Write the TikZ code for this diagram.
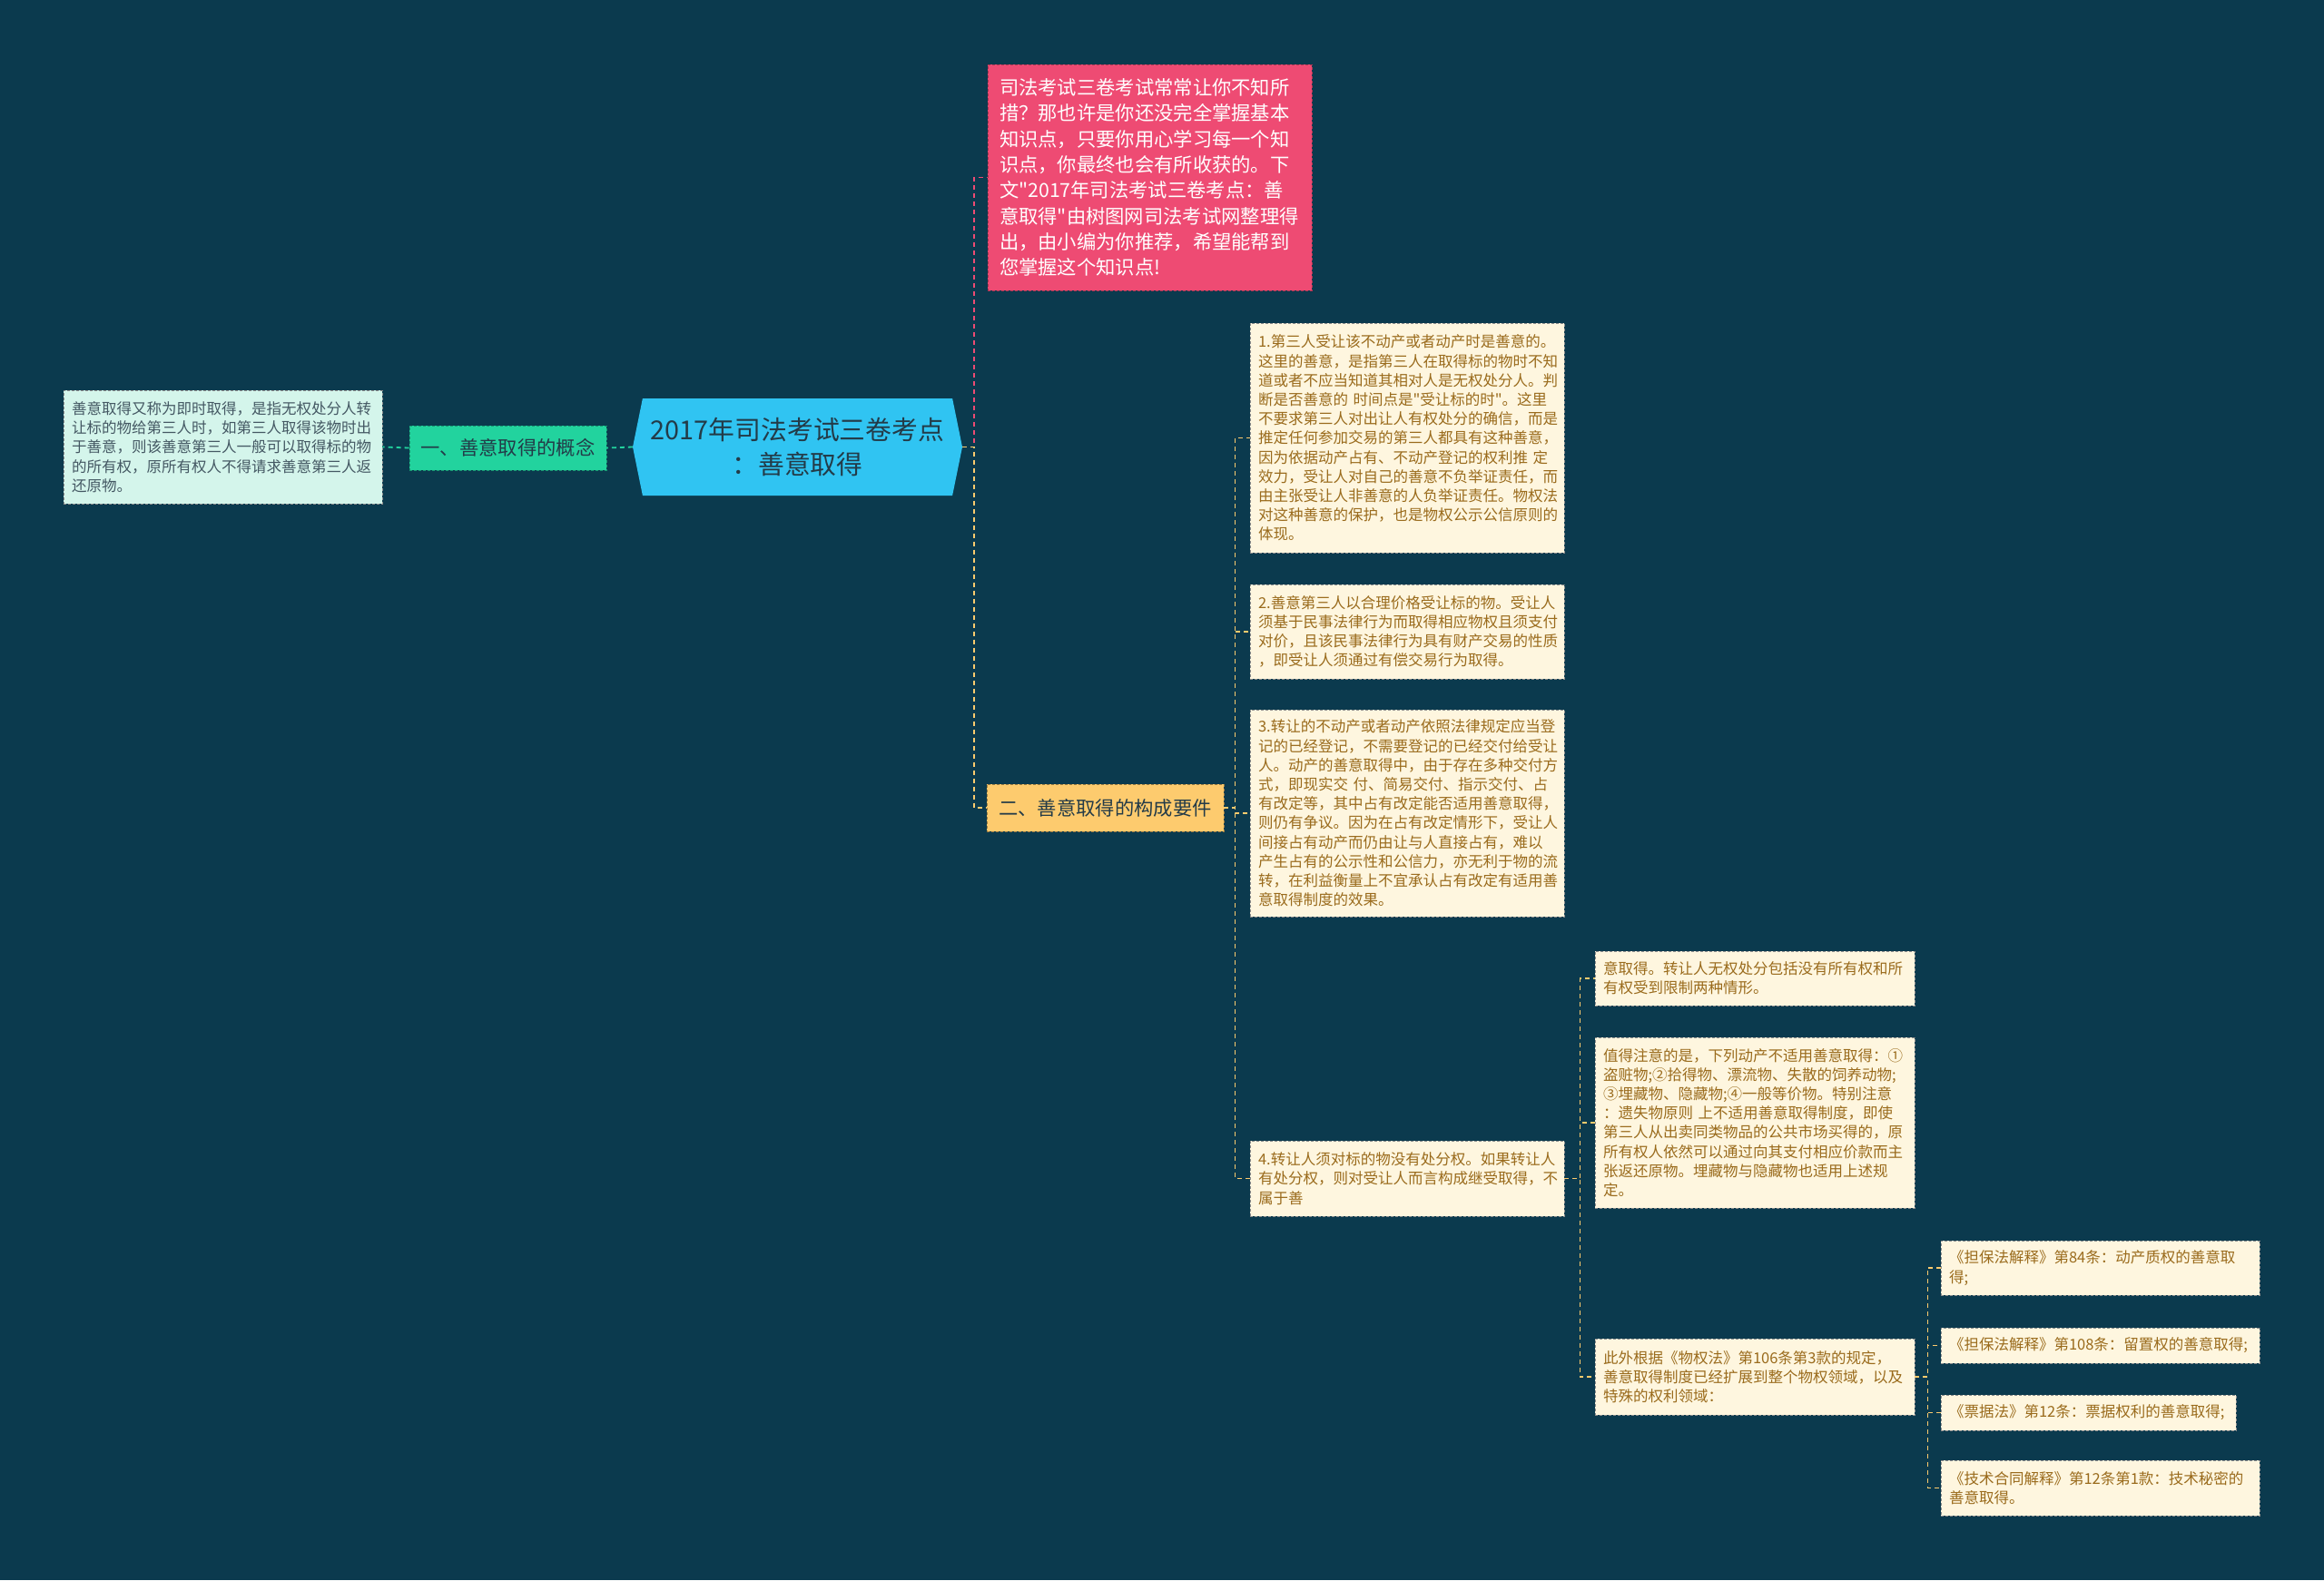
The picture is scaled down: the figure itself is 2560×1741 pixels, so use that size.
\documentclass[tikz,border=0pt]{standalone}
\usepackage{fontspec}
\setmainfont{Noto Sans CJK SC}[Ligatures=TeXOff]
\usetikzlibrary{shapes.symbols}
\definecolor{deepsea}{HTML}{0B3A4E}
\definecolor{skyblue}{HTML}{30C4F2}
\definecolor{seafoam}{HTML}{22D39E}
\definecolor{mintpale}{HTML}{D4F5EB}
\definecolor{rosepink}{HTML}{EE4B73}
\definecolor{honey}{HTML}{FDCB6E}
\definecolor{cream}{HTML}{FEF6DF}
\definecolor{bronze}{HTML}{9A6B1C}
\definecolor{inkdark}{HTML}{233B48}

\begin{document}
\begin{tikzpicture}[x=1pt,y=-1pt,
  box/.style={dash pattern=on 3pt off 2pt, line width=0.9pt, inner xsep=9pt, inner ysep=0pt, align=left},
  leaf/.style={box, draw=black!45, fill=cream, text=bronze, font=\fontsize{16.5}{21.2}\selectfont},
  topic/.style={box, align=center, text=inkdark, font=\fontsize{21.3}{28}\selectfont},
  link/.style={line width=1.8pt, dash pattern=on 5pt off 4pt}]
\useasboundingbox (0,0) rectangle (2560,1741);
\fill[deepsea] (0,0) rectangle (2560,1741);

\node[shape=signal, signal to=east and west, signal pointer angle=157, fill=skyblue, text=inkdark, align=center, minimum width=363pt, minimum height=107pt, inner sep=0pt, font=\fontsize{28.8}{38}\selectfont] (root) at (878.5,492.5) {2017年司法考试三卷考点\\：善意取得};

\node[topic, draw=seafoam!70!black, fill=seafoam, minimum width=217pt, minimum height=49pt] (one) at (559.5,493.5) {一、善意取得的概念};
\node[leaf, draw=black!45, fill=mintpale, text=inkdark!85, minimum width=351pt, minimum height=125pt, text width=333pt] (def) at (245.5,492.5) {善意取得又称为即时取得，是指无权处分人转\\让标的物给第三人时，如第三人取得该物时出\\于善意，则该善意第三人一般可以取得标的物\\的所有权，原所有权人不得请求善意第三人返\\还原物。};

\node[box, draw=rosepink!70!black, fill=rosepink, text=white, minimum width=357pt, minimum height=249pt, text width=331pt, inner xsep=13pt, font=\fontsize{21.3}{28.3}\selectfont] (intro) at (1266.5,195.5) {司法考试三卷考试常常让你不知所\\措？那也许是你还没完全掌握基本\\知识点，只要你用心学习每一个知\\识点，你最终也会有所收获的。下\\文"2017年司法考试三卷考点：善\\意取得"由树图网司法考试网整理得\\出，由小编为你推荐，希望能帮到\\您掌握这个知识点!};

\node[topic, draw=honey!60!black, fill=honey, minimum width=261pt, minimum height=52pt] (two) at (1217.5,890) {二、善意取得的构成要件};

% conditions
\node[leaf, minimum width=346pt, minimum height=253pt, text width=328pt] (l1) at (1550,482.5) {1.第三人受让该不动产或者动产时是善意的。\\这里的善意，是指第三人在取得标的物时不知\\道或者不应当知道其相对人是无权处分人。判\\断是否善意的~时间点是"受让标的时"。这里\\不要求第三人对出让人有权处分的确信，而是\\推定任何参加交易的第三人都具有这种善意，\\因为依据动产占有、不动产登记的权利推~定\\效力，受让人对自己的善意不负举证责任，而\\由主张受让人非善意的人负举证责任。物权法\\对这种善意的保护，也是物权公示公信原则的\\体现。};
\node[leaf, minimum width=346pt, minimum height=104pt, text width=328pt] (l2) at (1550,696) {2.善意第三人以合理价格受让标的物。受让人\\须基于民事法律行为而取得相应物权且须支付\\对价，且该民事法律行为具有财产交易的性质\\，即受让人须通过有偿交易行为取得。};
\node[leaf, minimum width=346pt, minimum height=228pt, text width=328pt] (l3) at (1550,896) {3.转让的不动产或者动产依照法律规定应当登\\记的已经登记，不需要登记的已经交付给受让\\人。动产的善意取得中，由于存在多种交付方\\式，即现实交~付、简易交付、指示交付、占\\有改定等，其中占有改定能否适用善意取得，\\则仍有争议。因为在占有改定情形下，受让人\\间接占有动产而仍由让与人直接占有，难以\\产生占有的公示性和公信力，亦无利于物的流\\转，在利益衡量上不宜承认占有改定有适用善\\意取得制度的效果。};
\node[leaf, minimum width=346pt, minimum height=83pt, text width=328pt] (l4) at (1550,1298.5) {4.转让人须对标的物没有处分权。如果转让人\\有处分权，则对受让人而言构成继受取得，不\\属于善};

% continuation of 4.
\node[leaf, minimum width=352pt, minimum height=60pt, text width=334pt] (sa) at (1933,1078) {意取得。转让人无权处分包括没有所有权和所\\有权受到限制两种情形。};
\node[leaf, minimum width=352pt, minimum height=188pt, text width=334pt] (sb) at (1933,1237) {值得注意的是，下列动产不适用善意取得：①\\盗赃物;②拾得物、漂流物、失散的饲养动物;\\③埋藏物、隐藏物;④一般等价物。特别注意\\：遗失物原则~上不适用善意取得制度，即使\\第三人从出卖同类物品的公共市场买得的，原\\所有权人依然可以通过向其支付相应价款而主\\张返还原物。埋藏物与隐藏物也适用上述规\\定。};
\node[leaf, minimum width=352pt, minimum height=84pt, text width=334pt] (sc) at (1933,1517) {此外根据《物权法》第106条第3款的规定，\\善意取得制度已经扩展到整个物权领域，以及\\特殊的权利领域：};

% special rights
\node[leaf, minimum width=351pt, minimum height=60pt, text width=333pt] (d1) at (2313.5,1397) {《担保法解释》第84条：动产质权的善意取\\得;};
\node[leaf, minimum width=351pt, minimum height=39pt, text width=333pt] (d2) at (2313.5,1482.5) {《担保法解释》第108条：留置权的善意取得;};
\node[leaf, minimum width=325pt, minimum height=39pt, text width=307pt] (d3) at (2300.5,1556.5) {《票据法》第12条：票据权利的善意取得;};
\node[leaf, minimum width=351pt, minimum height=61pt, text width=333pt] (d4) at (2313.5,1639.5) {《技术合同解释》第12条第1款：技术秘密的\\善意取得。};

% connectors
\draw[link, draw=seafoam] (root.west) -- (one.east);
\draw[link, draw=seafoam] (one.west) -- (def.east);
\draw[link, draw=rosepink] (root.east) -- ++(13,0) |- (intro.west);
\draw[link, draw=honey] (root.east) -- ++(13,0) |- (two.west);
\foreach \n in {l1,l2,l3,l4}
  \draw[link, draw=honey] (two.east) -- ++(12,0) |- (\n.west);
\foreach \n in {sa,sb,sc}
  \draw[link, draw=honey] (l4.east) -- ++(17,0) |- (\n.west);
\foreach \n in {d1,d2,d3,d4}
  \draw[link, draw=honey] (sc.east) -- ++(14,0) |- (\n.west);
\end{tikzpicture}
\end{document}
